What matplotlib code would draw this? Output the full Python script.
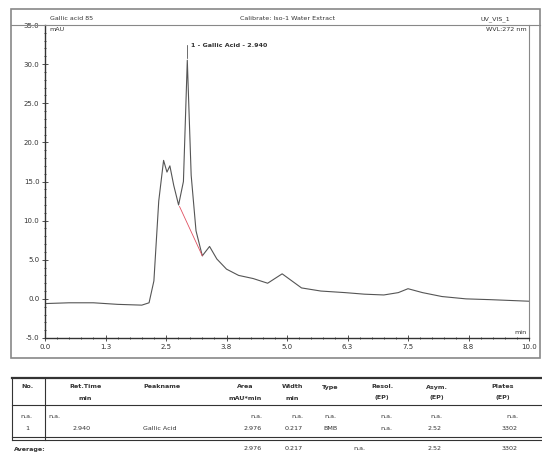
import numpy as np
import matplotlib
matplotlib.use("Agg")
import matplotlib.pyplot as plt
from matplotlib.lines import Line2D
from matplotlib.patches import Rectangle

# chromatogram trace (min, mAU)
time_min = [0.0, 0.5, 1.0, 1.5, 2.0, 2.15, 2.25, 2.35, 2.45, 2.52, 2.58, 2.66,
            2.76, 2.86, 2.94, 3.02, 3.12, 3.25, 3.4, 3.55, 3.75, 4.0, 4.3,
            4.6, 4.9, 5.1, 5.3, 5.7, 6.2, 6.6, 7.0, 7.3, 7.5, 7.8, 8.2, 8.7,
            9.2, 10.0]
signal_mau = [-0.6, -0.5, -0.5, -0.7, -0.8, -0.5, 2.3, 12.5, 17.7, 16.2, 17.0,
              14.5, 12.0, 15.0, 30.5, 15.8, 8.7, 5.5, 6.7, 5.1, 3.8, 3.0, 2.6,
              2.0, 3.2, 2.3, 1.4, 1.0, 0.8, 0.6, 0.5, 0.8, 1.3, 0.8, 0.3, 0.0,
              -0.1, -0.3]

# integration baseline of peak 1
base_t = [2.78, 3.25]
base_v = [11.8, 5.5]
peak_t = 2.94
peak_v = 30.5
peak_label = "1 - Gallic Acid - 2.940"

x_ticks = [0.0, 1.25, 2.5, 3.75, 5.0, 6.25, 7.5, 8.75, 10.0]
x_tick_labels = ["0.0", "1.3", "2.5", "3.8", "5.0", "6.3", "7.5", "8.8", "10.0"]
y_ticks = [-5, 0, 5, 10, 15, 20, 25, 30, 35]

header_left = "Gallic acid 85"
header_mid = "Calibrate: Iso-1 Water Extract"
header_right = "UV_VIS_1"
wvl_text = "WVL:272 nm"

# peak table
col_head1 = ["No.", "Ret.Time", "Peakname", "Area", "Width", "Type", "Resol.", "Asym.", "Plates"]
col_head2 = ["", "min", "", "mAU*min", "min", "", "(EP)", "(EP)", "(EP)"]
row_na = ["n.a.", "n.a.", "", "n.a.", "n.a.", "n.a.", "n.a.", "n.a.", "n.a."]
row_1 = ["1", "2.940", "Gallic Acid", "2.976", "0.217", "BMB", "n.a.", "2.52", "3302"]
row_avg = ["Average:", "", "", "2.976", "0.217", "", "n.a.", "2.52", "3302"]

W, H = 542, 454
ink = "#333333"
fs = 4.6

fig = plt.figure(figsize=(W / 100, H / 100), dpi=100)

def fx(px):
    return px / W

def fy(py):
    return 1 - py / H

# outer frame of chromatogram
fig.add_artist(Rectangle((fx(11), fy(358)), fx(540) - fx(11), fy(9) - fy(358),
                         fill=False, ec="#888888", lw=1.2))
fig.add_artist(Line2D([fx(11), fx(540)], [fy(25), fy(25)], color="#888888", lw=0.8))

ax = fig.add_axes([fx(45), fy(338), fx(529) - fx(45), fy(25) - fy(338)])
ax.plot(time_min, signal_mau, color="#555555", lw=0.8)
ax.plot(base_t, base_v, color="#e05060", lw=0.6)
ax.set_xlim(0, 10)
ax.set_ylim(-5, 35)

ax.set_xticks(x_ticks)
ax.set_xticklabels(x_tick_labels)
ax.set_xticks(np.arange(0, 10.01, 0.25), minor=True)
ax.set_yticks(y_ticks)
ax.set_yticklabels(["%.1f" % v for v in y_ticks])
ax.set_yticks(np.arange(-5, 35.1, 1), minor=True)
ax.tick_params(which="both", direction="inout", color=ink, labelsize=fs + 0.4,
               labelcolor=ink, width=0.6)
ax.tick_params(which="major", length=4, pad=2)
ax.tick_params(which="minor", length=2)
ax.spines["left"].set_color(ink)
ax.spines["bottom"].set_color(ink)
ax.spines["left"].set_linewidth(1.0)
ax.spines["bottom"].set_linewidth(1.0)
ax.spines["top"].set_visible(False)
ax.spines["right"].set_color("#888888")
ax.spines["right"].set_linewidth(0.8)

# peak label with vertical marker line
ax.plot([peak_t, peak_t], [peak_v + 0.3, peak_v + 1.9], color=ink, lw=0.5)
ax.text(peak_t + 0.08, peak_v + 1.9, peak_label, fontsize=fs, color=ink,
        fontweight="bold", va="center", ha="left")
ax.text(0.01, 0.995, "mAU", transform=ax.transAxes, fontsize=fs, color=ink, va="top")
ax.text(0.995, 0.995, wvl_text, transform=ax.transAxes, fontsize=fs, color=ink,
        va="top", ha="right")
ax.text(0.995, 0.01, "min", transform=ax.transAxes, fontsize=fs, color=ink,
        va="bottom", ha="right")

fig.text(fx(50), fy(19), header_left, fontsize=fs, color=ink, va="center")
fig.text(fx(288), fy(19), header_mid, fontsize=fs, color=ink, va="center", ha="center")
fig.text(fx(510), fy(19), header_right, fontsize=fs, color=ink, va="center", ha="right")

# peak table
col_x = [27, 82, 160, 262, 303, 330, 392, 442, 518]
col_ha = ["center", "center", "center", "right", "right", "center", "right", "right", "right"]
head_x = [27, 85, 162, 245, 292, 330, 382, 437, 503]

def hline(py, lw=0.8, color=ink):
    fig.add_artist(Line2D([fx(12), fx(542)], [fy(py), fy(py)], color=color, lw=lw))

hline(378, lw=1.6)
hline(405, lw=0.8)
hline(437, lw=0.8)
hline(440, lw=0.8)
fig.add_artist(Line2D([fx(12), fx(12)], [fy(378), fy(440)], color=ink, lw=0.8))
fig.add_artist(Line2D([fx(45), fx(45)], [fy(378), fy(440)], color=ink, lw=0.8))

for i in range(len(col_head1)):
    fig.text(fx(head_x[i]), fy(387), col_head1[i], fontsize=fs, color=ink,
             ha="center", va="center", fontweight="bold")
    fig.text(fx(head_x[i]), fy(398), col_head2[i], fontsize=fs, color=ink,
             ha="center", va="center", fontweight="bold")

fig.text(fx(20), fy(417), row_na[0], fontsize=fs, color=ink, va="center")
fig.text(fx(48), fy(417), row_na[1], fontsize=fs, color=ink, va="center")
for i in range(3, len(row_na)):
    fig.text(fx(col_x[i]), fy(417), row_na[i], fontsize=fs, color=ink,
             ha=col_ha[i], va="center")

for i in range(len(row_1)):
    fig.text(fx(col_x[i]), fy(429), row_1[i], fontsize=fs, color=ink,
             ha=col_ha[i], va="center")

fig.text(fx(14), fy(449), row_avg[0], fontsize=fs, color=ink, va="center",
         fontweight="bold")
for i in range(3, len(row_avg)):
    x = col_x[i] if i != 6 else 365
    fig.text(fx(x), fy(449), row_avg[i], fontsize=fs, color=ink,
             ha=col_ha[i], va="center")

fig.savefig("out.png", dpi=100)
